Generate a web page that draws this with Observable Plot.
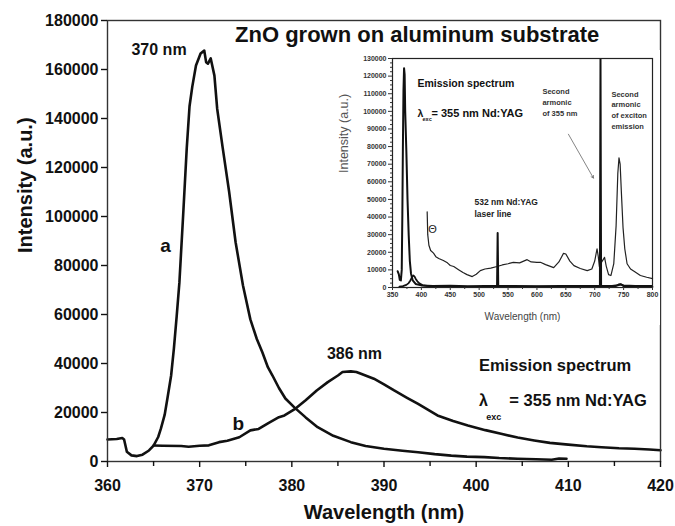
<!DOCTYPE html>
<html><head><meta charset="utf-8">
<script src="https://cdn.jsdelivr.net/npm/d3@7"></script>
<script src="https://cdn.jsdelivr.net/npm/@observablehq/plot@0.6"></script>
<style>
body{margin:0;background:#fff;}
#wrap{position:relative;width:675px;height:526px;overflow:hidden;}
#wrap svg{position:absolute;}
</style></head><body><div id="wrap"></div>
<script>
// ---------- Main chart data ----------
const wavelengthA = [360,361,361.6,361.8,362.1,362.6,363.2,363.8,364.5,365.0,365.5,365.8,366.2,366.5,366.9,367.2,367.5,367.8,368.2,368.6,368.9,369.2,369.6,370.1,370.5,370.7,370.9,371.2,371.6,371.9,372.5,373.2,373.9,374.7,375.5,376.2,376.8,377.4,377.9,378.6,379.3,380.3,381.5,382.8,384.5,386.4,388,390,392,393.7,395.5,397.3,399,400.9,402.5,404.5,406.5,408.2,409,409.8];
const intensityA = [9000,9200,9600,9000,4000,2500,2200,2800,4500,6500,10000,13500,19000,25700,35000,46000,59000,73000,100000,128000,145000,153000,161600,166500,167700,163000,162400,164500,157500,144000,128000,110000,89500,71800,58000,50000,44600,38500,35100,30000,25700,22000,18000,14000,10500,7900,6300,5200,4400,3800,3000,2400,2000,1800,1400,1100,900,700,1200,1100];
const wavelengthB = [365.0,366,368,368.8,370,371,372.1,373,374.3,375.5,376.4,377.5,378.6,379.2,380.4,381.5,382.7,383.9,385.0,385.5,386.4,387.0,387.5,388.9,390,391.1,392.5,393.7,395.8,397.5,399.1,401,402.7,404.5,406.3,408,410,412,413.6,415.5,417.2,418.8,420];
const intensityB = [6500,6400,6300,6000,6400,6600,7900,8500,9900,12700,13300,15800,18100,18800,21600,25000,29000,32400,35100,36500,36800,36500,35800,33800,31500,29000,26000,23500,18800,16500,14700,12800,11300,9800,8600,7600,6900,6200,5800,5400,5200,4900,4600];
const xTicks = [360,370,380,390,400,410,420];
const xMinorTicks = [365,375,385,395,405,415];
const yTicks = [0,20000,40000,60000,80000,100000,120000,140000,160000,180000];
const xLabel = "Wavelength (nm)";
const yLabel = "Intensity (a.u.)";
const title = "ZnO grown on aluminum substrate";

// ---------- Inset data ----------
const insetWavelengthA = [359,361,362.6,364.5,366,367,368,369,370,371,372,374,376,378,380,382,385,390,400,420,450,480,510,530,531,532,533,534,560,600,640,680,705,709,710,711,715,730,740,745,750,770,800];
const insetIntensityA = [9200,7500,4300,4000,10000,40000,80000,112000,124500,121000,100000,77000,50000,30000,15000,8000,4000,2000,1200,800,1000,700,900,800,1000,31000,1000,800,900,700,900,800,900,1000,131000,1000,800,900,1300,1800,1200,800,900];
const insetWavelengthB = [362,368,374,378,381,384,386,388,390,393,397,402,410,420,440,500,600,700,735,742,746,750,760,800];
const insetIntensityB = [500,800,1500,2500,4000,6000,6800,6300,5000,3500,2200,1400,900,600,500,400,500,400,600,1800,1700,700,400,400];
const insetWavelengthC = [410,411,413,416,421,425,430,438,445,450,456,465,472,479,488,495,502,510,520,531,540,550,559,570,583,590,600,606,615,629,638,646,650,657,664,675,687,695,700,704,706,708,713,717,720,724,728,733,737,740,742,744,746,749,752,756,762,770,779,790,800];
const insetIntensityC = [43000,30000,24000,21000,19500,17500,16500,15300,14000,12500,11900,10000,8500,7300,6200,7500,9600,10500,11000,11900,12800,13500,14300,14000,15800,14500,14300,14300,13000,11300,14500,19400,19000,15000,12400,10800,9600,10500,15000,22000,18000,12000,15000,17100,12000,7300,6800,13600,35000,65000,73600,70000,55000,34000,22000,13500,10500,8800,6800,5800,5000];
const insetXTicks = [350,400,450,500,550,600,650,700,750,800];
const insetXMinor = [375,425,475,525,575,625,675,725,775];
const insetYTicks = d3.range(0, 130001, 10000);
const insetYMinor = d3.range(0, 130001, 2500).filter(v => v % 10000 !== 0);

const font = "'Liberation Sans', Arial, Helvetica, sans-serif";
const toRows = (xs, ys) => xs.map((x, i) => ({x, y: ys[i]}));

const main = Plot.plot({
  width: 675, height: 526,
  marginLeft: 107, marginRight: 15, marginTop: 20, marginBottom: 65,
  style: {fontFamily: font, fontWeight: "bold", color: "#111", background: "white", overflow: "visible"},
  x: {domain: [360, 420]},
  y: {domain: [0, 180000]},
  marks: [
    Plot.line(toRows(wavelengthB, intensityB), {x: "x", y: "y", stroke: "#111", strokeWidth: 2.6, strokeLinejoin: "round"}),
    Plot.line(toRows(wavelengthA, intensityA), {x: "x", y: "y", stroke: "#111", strokeWidth: 2.6, strokeLinejoin: "round"}),
    Plot.frame({stroke: "#333", strokeWidth: 1.4}),
    Plot.axisX({ticks: xTicks, tickSize: 6, tickPadding: 12, fontSize: 16, fontWeight: "bold", label: null, tickFormat: d3.format("d"), strokeWidth: 1.4}),
    Plot.axisX({ticks: xMinorTicks, tickSize: 5, tickFormat: () => "", label: null, strokeWidth: 1.4}),
    Plot.axisY({ticks: yTicks, tickSize: 6, tickPadding: 3, fontSize: 16, fontWeight: "bold", label: null, tickFormat: d3.format("d"), strokeWidth: 1.4}),
    Plot.text([xLabel], {text: d => d, frameAnchor: "bottom", dy: 51, lineAnchor: "middle", fontSize: 20, fontWeight: "bold"}),
    Plot.text([yLabel], {text: d => d, frameAnchor: "left", dx: -82, dy: 12, rotate: -90, lineAnchor: "middle", fontSize: 20, fontWeight: "bold"}),
    Plot.text([title], {text: d => d, x: 393.6, y: 173900, lineAnchor: "middle", fontSize: 22, fontWeight: "bold"}),
    Plot.text(["370 nm"], {text: d => d, x: 362.6, y: 168200, textAnchor: "start", lineAnchor: "middle", fontSize: 16, fontWeight: "bold"}),
    Plot.text(["386 nm"], {text: d => d, x: 386.8, y: 44100, lineAnchor: "middle", fontSize: 16, fontWeight: "bold"}),
    Plot.text(["a"], {text: d => d, x: 366.3, y: 88200, lineAnchor: "middle", fontSize: 19, fontWeight: "bold"}),
    Plot.text(["b"], {text: d => d, x: 374.2, y: 15500, lineAnchor: "middle", fontSize: 19, fontWeight: "bold"}),
    Plot.text(["Emission spectrum"], {text: d => d, x: 400.3, y: 39200, textAnchor: "start", lineAnchor: "middle", fontSize: 16.5, fontWeight: "bold"}),
    Plot.text(["λ"], {text: d => d, x: 400.3, y: 24900, textAnchor: "start", lineAnchor: "middle", fontSize: 16, fontWeight: "bold"}),
    Plot.text(["exc"], {text: d => d, x: 401.1, y: 18000, textAnchor: "start", lineAnchor: "middle", fontSize: 9, fontWeight: "bold"}),
    Plot.text(["= 355 nm Nd:YAG"], {text: d => d, x: 403.6, y: 24900, textAnchor: "start", lineAnchor: "middle", fontSize: 16.5, fontWeight: "bold"})
  ]
});

const inset = Plot.plot({
  width: 330, height: 275,
  marginLeft: 62, marginRight: 8, marginTop: 8, marginBottom: 38,
  style: {fontFamily: font, color: "#333", background: "white", overflow: "visible"},
  x: {domain: [350, 800]},
  y: {domain: [0, 130000]},
  marks: [
    Plot.frame({fill: "white"}),
    Plot.line(toRows(insetWavelengthC, insetIntensityC), {x: "x", y: "y", stroke: "#222", strokeWidth: 1.2, strokeLinejoin: "round"}),
    Plot.line(toRows(insetWavelengthB, insetIntensityB), {x: "x", y: "y", stroke: "#111", strokeWidth: 1.8, strokeLinejoin: "round"}),
    Plot.line(toRows(insetWavelengthA, insetIntensityA), {x: "x", y: "y", stroke: "#111", strokeWidth: 2, strokeLinejoin: "round", clip: true}),
    Plot.frame({stroke: "#222", strokeWidth: 1.2}),
    Plot.axisX({ticks: insetXTicks, tickSize: 3, tickPadding: 2, fontSize: 7, fontWeight: "bold", label: null, tickFormat: d3.format("d")}),
    Plot.axisX({ticks: insetXMinor, tickSize: 2, tickFormat: () => "", label: null}),
    Plot.axisY({ticks: insetYTicks, tickSize: 4, tickPadding: 2, fontSize: 7, fontWeight: "bold", label: null, tickFormat: d3.format("d")}),
    Plot.axisY({ticks: insetYMinor, tickSize: 2, tickFormat: () => "", label: null}),
    Plot.text([xLabel], {text: d => d, frameAnchor: "bottom", dy: 29, lineAnchor: "middle", fontSize: 10, fill: "#444"}),
    Plot.text([yLabel], {text: d => d, frameAnchor: "left", dx: -49, dy: 0, rotate: -90, lineAnchor: "middle", fontSize: 12.5, fill: "#555"}),
    Plot.text(["Emission spectrum"], {text: d => d, x: 393.3, y: 115800, textAnchor: "start", lineAnchor: "middle", fontSize: 10.5, fontWeight: "bold", fill: "#111"}),
    Plot.text(["λ"], {text: d => d, x: 393.3, y: 98900, textAnchor: "start", lineAnchor: "middle", fontSize: 10.5, fontWeight: "bold", fill: "#111"}),
    Plot.text(["exc"], {text: d => d, x: 402, y: 95500, textAnchor: "start", lineAnchor: "middle", fontSize: 5.5, fontWeight: "bold", fill: "#111"}),
    Plot.text(["= 355 nm Nd:YAG"], {text: d => d, x: 417.5, y: 98900, textAnchor: "start", lineAnchor: "middle", fontSize: 11, fontWeight: "bold", fill: "#111"}),
    Plot.text(["Second\narmonic\nof 355 nm"], {text: d => d, x: 609.5, y: 105600, textAnchor: "start", lineAnchor: "middle", lineHeight: 1.45, fontSize: 7.5, fontWeight: "bold", fill: "#333"}),
    Plot.text(["Second\narmonic\nof exciton\nemission"], {text: d => d, x: 728.9, y: 101100, textAnchor: "start", lineAnchor: "middle", lineHeight: 1.45, fontSize: 7.5, fontWeight: "bold", fill: "#333"}),
    Plot.text(["532 nm Nd:YAG\nlaser line"], {text: d => d, x: 491.9, y: 45800, textAnchor: "start", lineAnchor: "middle", lineHeight: 1.4, fontSize: 8.5, fontWeight: "bold", fill: "#222"}),
    Plot.text(["Θ"], {text: d => d, x: 419.2, y: 32800, lineAnchor: "middle", fontSize: 11, fill: "#222"}),
    Plot.arrow([0], {x1: 654.5, y1: 87000, x2: 697.8, y2: 62100, stroke: "#666", strokeWidth: 0.8, headLength: 5})
  ]
});

const wrap = document.getElementById("wrap");
main.style.left = "0px"; main.style.top = "0px";
inset.style.left = "330px"; inset.style.top = "50px";
wrap.appendChild(main);
wrap.appendChild(inset);
</script>
</body></html>
